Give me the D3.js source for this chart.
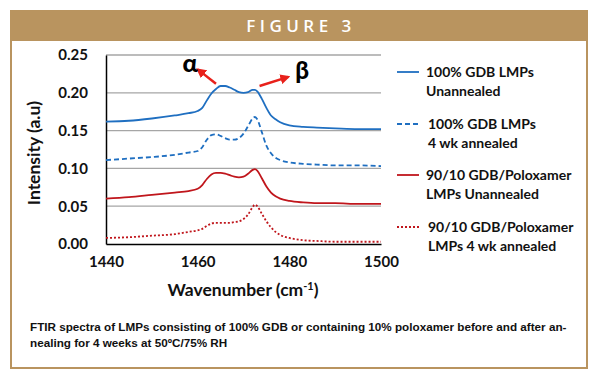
<!DOCTYPE html>
<html>
<head>
<meta charset="utf-8">
<script src="https://cdn.jsdelivr.net/npm/d3@7"></script>
<style>
  body { margin: 0; background: #fff; }
  svg { display: block; }
</style>
</head>
<body>
<div class="graph"></div>
<script>
// wavenumber grid (cm-1) shared by all four spectra
const wavenumbers = [1440, 1445, 1450, 1455, 1458, 1460, 1461, 1462, 1463, 1464, 1465, 1466, 1467, 1468, 1469, 1470,
    1471, 1472, 1472.5, 1473, 1474, 1475, 1476, 1477, 1478, 1480, 1483, 1486, 1490, 1495, 1500];

const gdbUnannealed = [0.162, 0.163, 0.166, 0.170, 0.173, 0.176, 0.180, 0.190, 0.199, 0.205, 0.209, 0.209, 0.207, 0.204, 0.201, 0.200,
    0.201, 0.204, 0.204, 0.202, 0.192, 0.180, 0.170, 0.165, 0.161, 0.157, 0.155, 0.154, 0.153, 0.152, 0.152];
const gdbAnnealed = [0.111, 0.113, 0.115, 0.118, 0.121, 0.123, 0.128, 0.138, 0.144, 0.145, 0.143, 0.140, 0.138, 0.138, 0.140, 0.146,
    0.156, 0.166, 0.168, 0.165, 0.148, 0.130, 0.120, 0.114, 0.111, 0.108, 0.106, 0.105, 0.104, 0.104, 0.103];
const poloxUnannealed = [0.060, 0.062, 0.065, 0.068, 0.070, 0.073, 0.078, 0.086, 0.092, 0.094, 0.094, 0.093, 0.091, 0.089, 0.088, 0.089,
    0.093, 0.098, 0.099, 0.097, 0.087, 0.076, 0.068, 0.063, 0.060, 0.057, 0.055, 0.054, 0.054, 0.053, 0.053];
const poloxAnnealed = [0.008, 0.009, 0.011, 0.013, 0.016, 0.018, 0.020, 0.024, 0.027, 0.028, 0.028, 0.028, 0.028, 0.029, 0.030, 0.033,
    0.039, 0.049, 0.052, 0.050, 0.040, 0.030, 0.022, 0.016, 0.012, 0.008, 0.005, 0.004, 0.003, 0.003, 0.003];

const seriesNames = [['100% GDB LMPs', 'Unannealed'], ['100% GDB LMPs', '4 wk annealed'],
    ['90/10 GDB/Poloxamer', 'LMPs Unannealed'], ['90/10 GDB/Poloxamer', 'LMPs 4 wk annealed']];
const xTicks = [1440, 1460, 1480, 1500];
const yTicks = [0, 0.05, 0.10, 0.15, 0.20, 0.25];
const caption = ['FTIR spectra of LMPs consisting of 100% GDB or containing 10% poloxamer before and after an-',
    'nealing for 4 weeks at 50ºC/75% RH'];

const tan = '#b9945f';
const blue = '#1f6fc1';
const red = '#c0161c';
const styles = [
    { color: blue, dash: null },
    { color: blue, dash: '5,3' },
    { color: red, dash: null },
    { color: red, dash: '2,2' }
];
const allSeries = [gdbUnannealed, gdbAnnealed, poloxUnannealed, poloxAnnealed];

const W = 600, H = 379;
const plot = { left: 106, right: 381, top: 55, bottom: 244 };
const font = 'Lato, "Open Sans", sans-serif';

const svg = d3.select('.graph').append('svg').attr('width', W).attr('height', H);
svg.append('rect').attr('width', W).attr('height', H).attr('fill', '#fff');

// frame + header bar
svg.append('rect').attr('x', 11).attr('y', 11).attr('width', 576).attr('height', 357)
    .attr('fill', 'none').attr('stroke', tan).attr('stroke-width', 2);
svg.append('rect').attr('x', 10).attr('y', 10).attr('width', 578).attr('height', 31).attr('fill', tan);
svg.append('text').attr('x', 301).attr('y', 32).attr('text-anchor', 'middle')
    .style('font-family', '"Open Sans", sans-serif').style('font-weight', 600).style('font-size', '17px')
    .style('letter-spacing', '4.5px').attr('fill', '#fff').text('FIGURE 3');

const xScale = d3.scaleLinear().domain([1440, 1500]).range([plot.left, plot.right]);
const yScale = d3.scaleLinear().domain([0, 0.25]).range([plot.bottom, plot.top]);

// gridlines
svg.append('g').selectAll('line').data(yTicks.filter(d => d > 0)).join('line')
    .attr('x1', plot.left).attr('x2', plot.right)
    .attr('y1', d => yScale(d)).attr('y2', d => yScale(d))
    .attr('stroke', '#a6a6a6').attr('stroke-width', 1.3);

const xAxis = d3.axisBottom(xScale).tickValues(xTicks).tickSize(0).tickPadding(12).tickFormat(d3.format('d'));
const gx = svg.append('g').attr('transform', `translate(0,${plot.bottom})`).call(xAxis);
gx.select('.domain').attr('stroke', '#000').attr('stroke-width', 1.5);

const yAxis = d3.axisLeft(yScale).tickValues(yTicks).tickSize(0).tickPadding(18).tickFormat(d3.format('.2f'));
const gy = svg.append('g').attr('transform', `translate(${plot.left},0)`).call(yAxis);
gy.select('.domain').attr('stroke', '#000').attr('stroke-width', 1.5);

svg.selectAll('.tick text').style('font-family', font).style('font-weight', 700)
    .style('font-size', '15px').attr('fill', '#111');

// spectra
const line = d3.line().x((d, i) => xScale(wavenumbers[i])).y(d => yScale(d)).curve(d3.curveMonotoneX);
allSeries.forEach((s, i) => {
    svg.append('path').datum(s).attr('d', line).attr('fill', 'none')
        .attr('stroke', styles[i].color).attr('stroke-width', 1.8)
        .attr('stroke-dasharray', styles[i].dash);
});

// axis titles
svg.append('text').attr('transform', 'translate(40,153) rotate(-90)').attr('text-anchor', 'middle')
    .style('font-family', font).style('font-weight', 700).style('font-size', '17.5px').attr('fill', '#111')
    .text('Intensity (a.u)');
const xt = svg.append('text').attr('x', 243).attr('y', 296).attr('text-anchor', 'middle')
    .style('font-family', font).style('font-weight', 700).style('font-size', '17.5px').attr('fill', '#111');
xt.append('tspan').text('Wavenumber (cm');
xt.append('tspan').attr('dy', -6).style('font-size', '11px').text('-1');
xt.append('tspan').attr('dy', 6).text(')');

// alpha / beta annotations
svg.append('defs').append('marker').attr('id', 'arr').attr('viewBox', '0 0 10 10')
    .attr('refX', 8).attr('refY', 5).attr('markerWidth', 4).attr('markerHeight', 4).attr('orient', 'auto')
    .append('path').attr('d', 'M0,0L10,5L0,10z').attr('fill', '#e8211b');
svg.append('line').attr('x1', xScale(1464)).attr('y1', yScale(0.212)).attr('x2', xScale(1460)).attr('y2', yScale(0.231))
    .attr('stroke', '#e8211b').attr('stroke-width', 2.5).attr('marker-end', 'url(#arr)');
svg.append('line').attr('x1', xScale(1473.5)).attr('y1', yScale(0.209)).attr('x2', xScale(1479.8)).attr('y2', yScale(0.221))
    .attr('stroke', '#e8211b').attr('stroke-width', 2.5).attr('marker-end', 'url(#arr)');
svg.append('text').attr('x', 190).attr('y', 72).attr('text-anchor', 'middle')
    .style('font-family', font).style('font-weight', 900).style('font-size', '25px').text('α');
svg.append('text').attr('x', 302).attr('y', 79).attr('text-anchor', 'middle')
    .style('font-family', font).style('font-weight', 900).style('font-size', '24px').text('β');

// legend
const legendY = [72, 124, 175, 227];
seriesNames.forEach((n, i) => {
    const g = svg.append('g').attr('transform', `translate(397,${legendY[i]})`);
    g.append('line').attr('x1', 0).attr('x2', 22).attr('y1', 0).attr('y2', 0)
        .attr('stroke', styles[i].color).attr('stroke-width', 1.8).attr('stroke-dasharray', styles[i].dash);
    const t = g.append('text').style('font-family', font).style('font-weight', 700).style('font-size', '14px')
        .attr('fill', '#111');
    t.append('tspan').attr('x', i % 2 ? 31 : 29).attr('y', 5).text(n[0]);
    t.append('tspan').attr('x', i % 2 ? 31 : 29).attr('y', 24).text(n[1]);
});

// caption
svg.append('g').selectAll('text').data(caption).join('text')
    .attr('x', 30).attr('y', (d, i) => 331 + i * 16)
    .style('font-family', '"Liberation Sans Narrow", "Arial Narrow", sans-serif').style('font-weight', 700)
    .style('font-size', '11.7px').attr('fill', '#111').text(d => d);
</script>
</body>
</html>
